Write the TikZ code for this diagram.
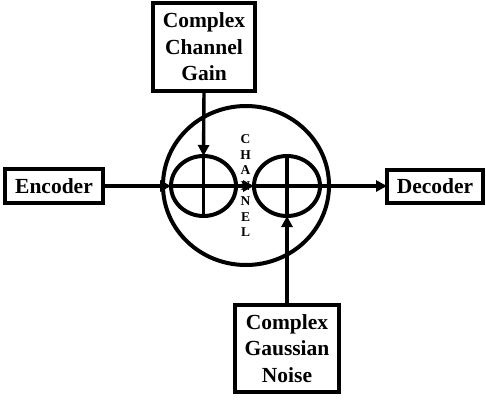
\documentclass[tikz,border=0pt]{standalone}
\usepackage{fontspec}
\setmainfont{Liberation Serif}
\usetikzlibrary{arrows.meta,shapes.geometric}
\tikzset{
  blockbox/.style={draw=black,line width=4pt,rectangle,inner sep=0pt,outer sep=0pt,align=center,
    font=\fontsize{21.5}{26.5}\selectfont\bfseries},
  ring/.style={draw=black,line width=4pt,ellipse,inner sep=0pt,outer sep=0pt},
  wire/.style={draw=black,line width=3.4pt},
  arrowwire/.style={wire,-{Triangle[length=11pt,width=11pt]}},
  stacktext/.style={inner sep=0pt,align=center,font=\fontsize{13.5}{15.5}\selectfont\bfseries}
}
\begin{document}
\begin{tikzpicture}[x=1pt,y=-1pt]
\useasboundingbox[fill=white] (0,0) rectangle (486,401);
\node[stacktext] (chan) at (245.5,186) {C\\H\\A\\N\\N\\E\\L};
\node[ring,minimum width=166pt,minimum height=159pt] (big) at (246,185.5) {};
\node[ring,minimum width=65pt,minimum height=60pt] (sumL) at (203.5,186) {};
\node[ring,minimum width=66pt,minimum height=60pt] (sumR) at (287,186) {};
\node[blockbox,minimum width=98pt,minimum height=34pt] (enc) at (54,186) {Encoder};
\node[blockbox,minimum width=96pt,minimum height=33pt] (dec) at (435,186) {Decoder};
\node[blockbox,minimum width=102pt,minimum height=88pt] (gain) at (204,47) {Complex\\Channel\\Gain};
\node[blockbox,minimum width=104pt,minimum height=87pt] (noise) at (287,348.5) {Complex\\Gaussian\\Noise};
\draw[arrowwire] (enc.east) -- (sumL.west);
\draw[wire] (sumL.west) -- (sumL.east);
\draw[arrowwire] (sumL.east) -- (sumR.west);
\draw[wire] (sumR.west) -- (sumR.east);
\draw[arrowwire] (sumR.east) -- (dec.west);
\draw[arrowwire] (gain.south) -- (sumL.north);
\draw[wire] (sumL.north) -- (sumL.south);
\draw[arrowwire] (noise.north) -- (sumR.south);
\draw[wire] (sumR.south) -- (sumR.north);
\end{tikzpicture}
\end{document}
